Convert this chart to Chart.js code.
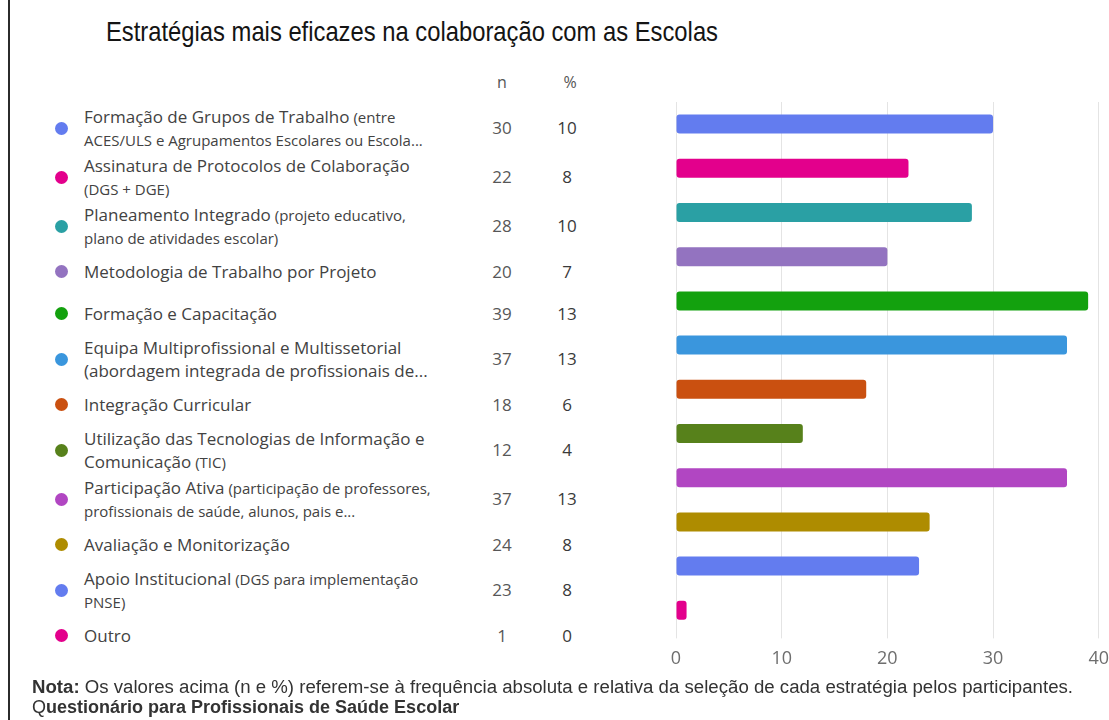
<!DOCTYPE html>
<html lang="pt">
<head>
<meta charset="utf-8">
<title>Estratégias mais eficazes na colaboração com as Escolas</title>
<script src="https://cdn.jsdelivr.net/npm/chart.js@4.4.1/dist/chart.umd.min.js"></script>
<style>
  html, body { margin: 0; padding: 0; background: #fff; }
  body { width: 1109px; height: 720px; position: relative; overflow: hidden; font-family: "Open Sans", "Noto Sans", sans-serif; }
  #frame-line { position: absolute; left: 8px; top: 0; width: 1.5px; height: 720px; background: #2b2b2b; }
  #title { position: absolute; left: 106px; top: 18px; font-family: "Liberation Sans", Arial, sans-serif; font-size: 28px; line-height: 28px; color: #141414; white-space: nowrap; transform-origin: left top; }
  .head { position: absolute; top: 71px; width: 60px; text-align: center; font-size: 16px; color: #555; }
  #list { position: absolute; left: 0; top: 103.5px; width: 620px; }
  .row { position: relative; display: flex; align-items: center; min-height: 42px; padding: 1.5px 0; box-sizing: border-box; }
  .dot { position: absolute; left: 55px; top: 50%; width: 13px; height: 13px; margin-top: -6.5px; border-radius: 50%; }
  .txt { margin-left: 84px; width: 400px; white-space: pre-line; font-size: 17px; line-height: 23px; color: #424242; }
  .txt small { font-size: 15px; line-height: 1; }
  .num { position: absolute; top: 50%; margin-top: -12px; width: 60px; text-align: center; font-size: 17px; line-height: 24px; }
  .num.n { left: 472px; color: #575757; }
  .num.p { left: 537px; color: #3a3a3a; }
  #chart-box { position: absolute; left: 646px; top: 90px; width: 473px; height: 590px; }
  #footer { position: absolute; left: 32px; top: 677px; font-family: "Liberation Sans", Arial, sans-serif; font-size: 18px; line-height: 20px; color: #333; }
  #footer div { white-space: nowrap; transform-origin: left top; }
</style>
</head>
<body>
<div id="frame-line"></div>
<div id="title">Estratégias mais eficazes na colaboração com as Escolas</div>
<div class="head" style="left:472px">n</div>
<div class="head" style="left:540px">%</div>
<div id="list"></div>
<div id="chart-box"><canvas id="chart-strategies"></canvas></div>
<div id="footer">
  <div id="note"><b>Nota:</b> Os valores acima (n e %) referem-se à frequência absoluta e relativa da seleção de cada estratégia pelos participantes.</div>
  <div id="source">Q<b>uestionário para Profissionais de Saúde Escolar</b></div>
</div>

<script>
// strategy names (main part) and the smaller detail text that follows them
const labels = [
  "Formação de Grupos de Trabalho",
  "Assinatura de Protocolos de Colaboração",
  "Planeamento Integrado",
  "Metodologia de Trabalho por Projeto",
  "Formação e Capacitação",
  "Equipa Multiprofissional e Multissetorial\n(abordagem integrada de profissionais de...",
  "Integração Curricular",
  "Utilização das Tecnologias de Informação e\nComunicação",
  "Participação Ativa",
  "Avaliação e Monitorização",
  "Apoio Institucional",
  "Outro",
];
const details = [
  " (entre\nACES/ULS e Agrupamentos Escolares ou Escola...",
  "\n(DGS + DGE)",
  " (projeto educativo,\nplano de atividades escolar)",
  "",
  "",
  "",
  "",
  " (TIC)",
  " (participação de professores,\nprofissionais de saúde, alunos, pais e...",
  "",
  " (DGS para implementação\nPNSE)",
  "",
];
const counts = [30, 22, 28, 20, 39, 37, 18, 12, 37, 24, 23, 1];
const percents = [10, 8, 10, 7, 13, 13, 6, 4, 13, 8, 8, 0];
const axisTicks = [0, 10, 20, 30, 40];

const COLORS = ["#637cef", "#e3008c", "#2aa0a4", "#9373c0", "#13a10e", "#3a96dd",
                "#ca5010", "#57811b", "#b146c2", "#ae8c00", "#637cef", "#e3008c"];

function esc(s) {
  return s.replace(/&/g, "&amp;").replace(/</g, "&lt;");
}

function renderList() {
  const list = document.getElementById("list");
  labels.forEach((label, i) => {
    const row = document.createElement("div");
    row.className = "row";
    const extra = details[i] ? `<small>${esc(details[i])}</small>` : "";
    row.innerHTML =
      `<span class="dot" style="background:${COLORS[i % COLORS.length]}"></span>` +
      `<div class="txt">${esc(label)}${extra}</div>` +
      `<div class="num n">${counts[i]}</div>` +
      `<div class="num p">${percents[i]}</div>`;
    list.appendChild(row);
  });
}

// squeeze a single text line horizontally to a given width
function fitWidth(el, width) {
  const w = el.getBoundingClientRect().width;
  if (w > 0) el.style.transform = `scaleX(${width / w})`;
}

function renderChart() {
  const ctx = document.getElementById("chart-strategies");
  new Chart(ctx, {
    type: "bar",
    data: {
      labels: labels.map(l => l.replace("\n", " ")),
      datasets: [{
        label: "n",
        data: counts,
        backgroundColor: COLORS,
        borderRadius: 3,
        borderSkipped: false,
        barPercentage: 0.43,
        categoryPercentage: 1,
      }],
    },
    options: {
      indexAxis: "y",
      responsive: true,
      maintainAspectRatio: false,
      animation: false,
      layout: { padding: { left: 30, right: 12, top: 12, bottom: 0 } },
      plugins: { legend: { display: false } },
      scales: {
        x: {
          min: axisTicks[0],
          max: axisTicks[axisTicks.length - 1],
          ticks: { stepSize: axisTicks[1] - axisTicks[0], color: "#6e6e6e", padding: 10,
                   font: { family: "Open Sans", size: 18 } },
          grid: { color: "#e4e4e4", tickLength: 6 },
          border: { display: false },
        },
        y: { display: false },
      },
    },
  });
}

renderList();
renderChart();
fitWidth(document.getElementById("title"), 612);
fitWidth(document.getElementById("note"), 1041);
</script>
</body>
</html>
